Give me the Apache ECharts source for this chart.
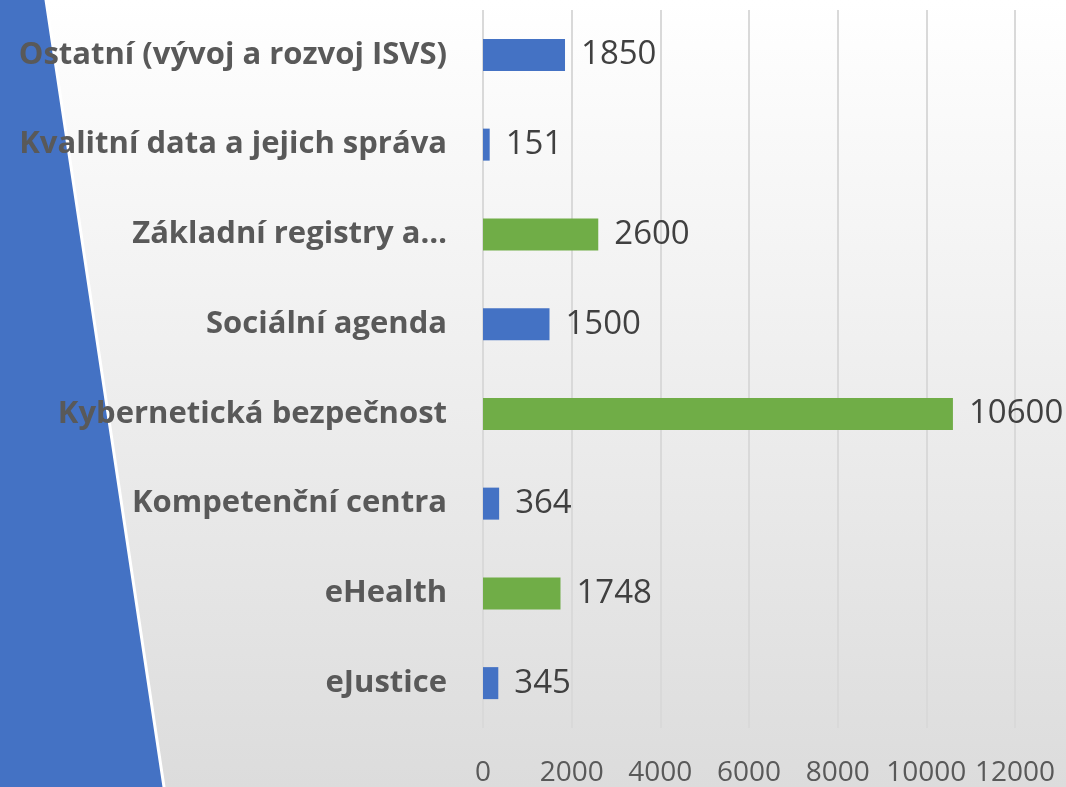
<!DOCTYPE html>
<html>
<head>
<meta charset="utf-8">
<script src="https://cdn.jsdelivr.net/npm/echarts@6/dist/echarts.min.js"></script>
<style>html,body{margin:0;padding:0;}#c{width:1066px;height:787px;}</style>
</head>
<body>
<div id="c"></div>
<script>
const categories = ['eJustice', 'eHealth', 'Kompetenční centra', 'Kybernetická bezpečnost', 'Sociální agenda', 'Základní registry a…', 'Kvalitní data a jejich správa', 'Ostatní (vývoj a rozvoj ISVS)'];
const values = [345, 1748, 364, 10600, 1500, 2600, 151, 1850];
const barColors = ['#4472C4', '#70AD47', '#4472C4', '#70AD47', '#4472C4', '#70AD47', '#4472C4', '#4472C4'];
const xTicks = [0, 2000, 4000, 6000, 8000, 10000, 12000];

const chart = echarts.init(document.getElementById('c'));
chart.setOption({
  backgroundColor: {
    type: 'linear', x: 0, y: 0, x2: 0, y2: 1,
    colorStops: [{offset: 0, color: '#ffffff'}, {offset: 1, color: '#dcdcdc'}]
  },
  graphic: [{
    type: 'polygon', z: -10, silent: true,
    shape: {points: [[-10, -10], [44.5, -10], [165.5, 797], [-10, 797]]},
    style: {fill: '#4472C4', stroke: '#ffffff', lineWidth: 3}
  }],
  grid: {left: 483, right: 51, top: 10, bottom: 53, containLabel: false},
  xAxis: {
    type: 'value', min: xTicks[0], max: xTicks[xTicks.length - 1], interval: 2000,
    axisLine: {show: false}, axisTick: {show: false},
    splitLine: {show: true, lineStyle: {color: '#d9d9d9', width: 2}},
    axisLabel: {color: '#595959', fontFamily: 'Open Sans', fontSize: 28, margin: 31,
      showMaxLabel: true, showMinLabel: true, hideOverlap: false,
      formatter: v => String(v)}
  },
  yAxis: {
    type: 'category', data: categories,
    axisLine: {show: false}, axisTick: {show: false},
    axisLabel: {color: '#595959', fontFamily: 'Open Sans', fontWeight: 'bold', fontSize: 31, margin: 36}
  },
  series: [{
    type: 'bar', barWidth: 32,
    data: values.map((v, i) => ({value: v, itemStyle: {color: barColors[i]}})),
    label: {show: true, position: 'right', distance: 16, color: '#404040', fontFamily: 'Open Sans', fontSize: 33}
  }]
});
</script>
</body>
</html>
